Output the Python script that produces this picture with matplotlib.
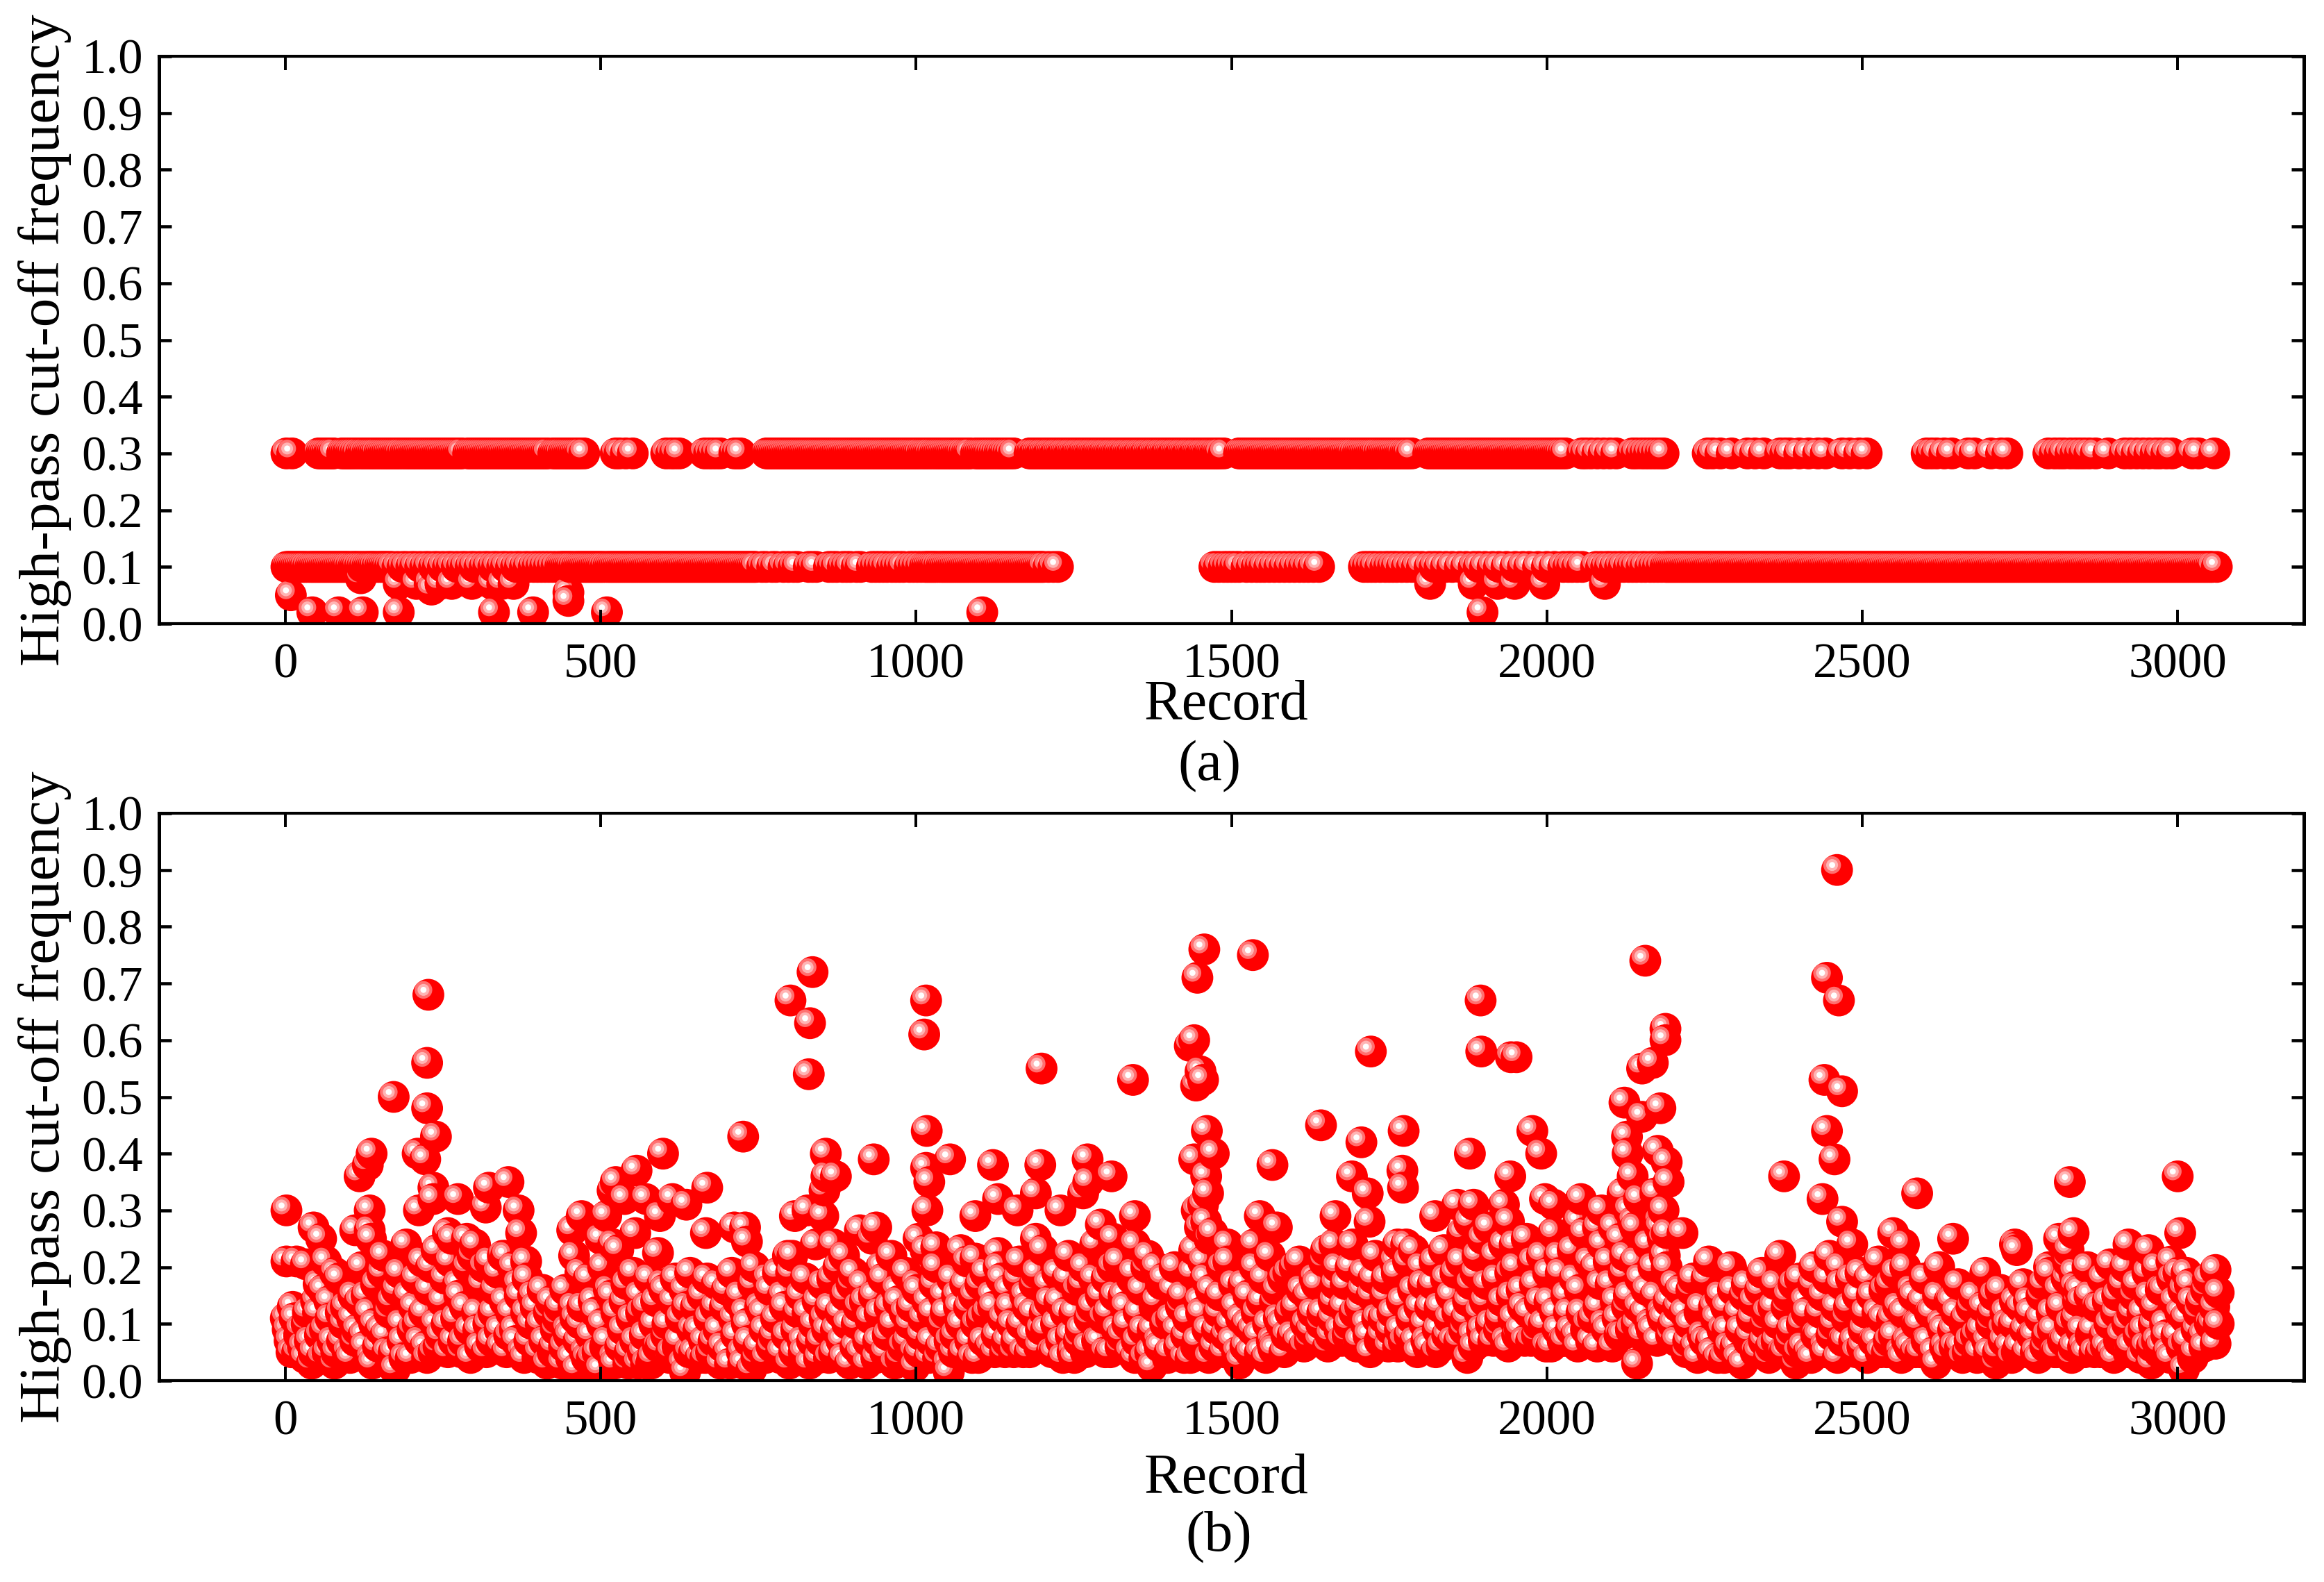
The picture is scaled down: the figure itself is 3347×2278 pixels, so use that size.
#!/usr/bin/env python3
"""
High-pass cut-off frequency per record, two panels of shaded ball markers.
"""

import numpy as np
import matplotlib
matplotlib.use("Agg")
import matplotlib.pyplot as plt
from matplotlib.colors import to_rgba_array
from matplotlib.path import Path

# panel (a): record numbers per level
a_high_x = [
    2, 11,
    53, 60, 66, 71, 77, 90, 96, 101, 107, 115, 120, 126, 133, 139, 145, 152, 158, 164, 170, 176, 182, 190, 196, 202,
    208, 214, 220, 226, 232, 238, 244, 250, 256, 262, 268, 274, 280, 290, 296, 302, 308, 314, 320, 326, 332, 338, 344,
    350, 356, 362, 368, 374, 380, 386, 392, 398, 404, 410, 416, 425, 431, 437, 444, 450, 456, 462, 468, 474,
    524, 530, 540, 551, 604, 612, 618, 625, 665, 672, 678, 684, 690, 712, 717, 722,
    763, 769, 775, 781, 787, 793, 799, 805, 811, 817, 823, 829, 835, 841, 847, 853, 859, 865, 871, 877, 883, 889, 895,
    901, 907, 913, 919, 925, 931, 937, 943, 949, 955, 961, 967, 973, 979, 985, 991, 997, 1003, 1010, 1016, 1022, 1030,
    1036, 1042, 1048, 1054, 1060, 1066, 1072, 1080, 1086, 1095, 1101, 1107, 1113, 1120, 1128, 1135, 1142, 1150, 1155,
    1180, 1185, 1190, 1196, 1201, 1207, 1212, 1218, 1223, 1229, 1234, 1240, 1245, 1251, 1256, 1262, 1267, 1273, 1278,
    1284, 1289, 1295, 1300, 1306, 1311, 1317, 1322, 1328, 1333, 1339, 1344, 1350, 1355, 1361, 1366, 1372, 1377, 1383,
    1388, 1394, 1399, 1405, 1410, 1416, 1421, 1427, 1432, 1438, 1443, 1449, 1454, 1460, 1465, 1471, 1476, 1482, 1488,
    1512, 1518, 1524, 1530, 1536, 1542, 1548, 1554, 1560, 1566, 1572, 1578, 1584, 1590, 1596, 1602, 1608, 1614, 1620,
    1626, 1632, 1638, 1644, 1650, 1656, 1662, 1668, 1674, 1680, 1686, 1692, 1700, 1706, 1712, 1718, 1724, 1730, 1738,
    1744, 1750, 1756, 1762, 1768, 1775, 1781, 1786,
    1812, 1818, 1824, 1830, 1836, 1842, 1848, 1854, 1860, 1866, 1872, 1878, 1884, 1890, 1896, 1902, 1908, 1914, 1920,
    1926, 1932, 1938, 1944, 1950, 1956, 1962, 1968, 1974, 1980, 1986, 1992, 1998, 2004, 2010, 2016, 2022, 2030,
    2056, 2062, 2070, 2080, 2090, 2100, 2110,
    2136, 2142, 2150, 2156, 2162, 2168, 2174, 2180, 2185,
    2255, 2263, 2275, 2293, 2318, 2330, 2344, 2370, 2378, 2385, 2400, 2415, 2430, 2442, 2468, 2480, 2495, 2507,
    2602, 2610, 2618, 2630, 2642, 2668, 2678, 2704, 2720, 2730,
    2795, 2805, 2813, 2820, 2830, 2838, 2845, 2852, 2860, 2870, 2890, 2916, 2925, 2935, 2945, 2955, 2965, 2972, 2982,
    2991, 3023, 3033, 3058,
]
a_high_fill_x = [
    57, 63, 69, 74, 93, 99, 104, 111, 123, 130, 136, 142, 149, 155, 161, 167, 173, 179, 186, 193, 199, 205, 211, 217,
    223, 229, 235, 241, 247, 253, 259, 265, 271, 277, 293, 299, 305, 311, 317, 323, 329, 335, 341, 347, 353, 359, 365,
    371, 377, 383, 389, 395, 401, 407, 413, 428, 434, 441, 447, 453, 459, 465,
    766, 772, 778, 784, 790, 796, 802, 808, 814, 820, 826, 832, 838, 844, 850, 856, 862, 868, 874, 880, 886, 892, 898,
    904, 910, 916, 922, 928, 934, 940, 946, 952, 958, 964, 970, 976, 982, 988, 994, 1000, 1006, 1013, 1019, 1026,
    1033, 1039, 1045, 1051, 1057, 1063, 1069, 1076, 1083, 1098, 1104, 1110, 1116, 1124, 1132, 1139, 1146,
    1183, 1188, 1193, 1199, 1204, 1210, 1215, 1221, 1226, 1232, 1237, 1243, 1248, 1254, 1259, 1265, 1270, 1276, 1281,
    1287, 1292, 1298, 1303, 1309, 1314, 1320, 1325, 1331, 1336, 1342, 1347, 1353, 1358, 1364, 1369, 1375, 1380, 1386,
    1391, 1397, 1402, 1408, 1413, 1419, 1424, 1430, 1435, 1441, 1446, 1452, 1457, 1463, 1468, 1474, 1479,
    1515, 1521, 1527, 1533, 1539, 1545, 1551, 1557, 1563, 1569, 1575, 1581, 1587, 1593, 1599, 1605, 1611, 1617, 1623,
    1629, 1635, 1641, 1647, 1653, 1659, 1665, 1671, 1677, 1683, 1689, 1696, 1703, 1709, 1715, 1721, 1727, 1734, 1741,
    1747, 1753, 1759, 1765, 1771, 1778,
    1815, 1821, 1827, 1833, 1839, 1845, 1851, 1857, 1863, 1869, 1875, 1881, 1887, 1893, 1899, 1905, 1911, 1917, 1923,
    1929, 1935, 1941, 1947, 1953, 1959, 1965, 1971, 1977, 1983, 1989, 1995, 2001, 2007, 2013, 2019, 2026,
]
a_mid_x = [
    2, 8, 14, 20, 26, 32, 40, 46, 52, 58, 64, 70, 76, 82, 88, 94, 100, 108, 114, 122, 130, 136, 142, 150, 156, 162,
    170, 178, 186, 192, 200, 206, 214, 222, 228, 236, 242, 250, 258, 264, 272, 280, 286, 294, 300, 308, 316, 322, 330,
    336, 344, 350, 358, 366, 372, 380, 386, 394, 400, 406, 412, 418, 424, 430, 436, 442, 448, 454, 462, 468, 474, 480,
    486, 492, 498, 504, 512, 518, 524, 530, 536, 542, 548, 554, 560, 566, 572, 578, 584, 590, 596, 602, 608, 614, 620,
    626, 632, 638, 644, 650, 656, 662, 668, 674, 680, 686, 692, 698, 704, 710, 716, 722, 728, 734, 740, 746, 756, 762,
    772, 778, 790, 798, 806, 812, 830, 836, 842, 862, 868, 874, 884, 890, 896, 906, 912, 930, 936, 942, 948, 954, 962,
    968, 974, 980, 990, 996, 1002, 1008, 1014, 1020, 1026, 1032, 1040, 1046, 1052, 1058, 1064, 1070, 1076, 1082, 1088,
    1094, 1100, 1106, 1112, 1118, 1124, 1130, 1136, 1142, 1148, 1154, 1160, 1166, 1172, 1178, 1184, 1190, 1196, 1202,
    1210, 1218, 1225,
    1473, 1480, 1488, 1494, 1500, 1506, 1512, 1524, 1532, 1540, 1546, 1552, 1560, 1568, 1576, 1584, 1592, 1600, 1608,
    1615, 1622, 1630, 1639,
    1710, 1716, 1722, 1728, 1736, 1744, 1750, 1756, 1762, 1770, 1778, 1786, 1794, 1802, 1814, 1822, 1830, 1840, 1850,
    1862, 1872, 1884, 1892, 1902, 1914, 1924, 1936, 1950, 1962, 1972, 1986, 2000, 2012, 2026, 2034, 2040, 2048, 2056,
    2078, 2086, 2094, 2100, 2108, 2116, 2122, 2130, 2136, 2142, 2150, 2156, 2164, 2170, 2176, 2182, 2188, 2194, 2200,
    2206, 2212, 2218, 2224, 2230, 2236, 2242, 2248, 2254, 2260, 2266, 2272, 2278, 2284, 2290, 2296, 2302, 2308, 2314,
    2320, 2326, 2332, 2338, 2344, 2350, 2356, 2362, 2368, 2374, 2380, 2386, 2392, 2398, 2404, 2410, 2416, 2422, 2428,
    2434, 2440, 2446, 2452, 2458, 2464, 2470, 2476, 2482, 2488, 2494, 2500, 2506, 2512, 2518, 2524, 2530, 2536, 2542,
    2548, 2554, 2560, 2566, 2572, 2578, 2584, 2590, 2596, 2602, 2608, 2614, 2620, 2626, 2632, 2638, 2644, 2650, 2656,
    2662, 2668, 2674, 2680, 2686, 2692, 2698, 2704, 2710, 2716, 2722, 2728, 2734, 2740, 2746, 2752, 2758, 2764, 2770,
    2776, 2782, 2788, 2794, 2800, 2806, 2812, 2818, 2824, 2830, 2836, 2842, 2848, 2854, 2860, 2866, 2872, 2878, 2884,
    2890, 2896, 2902, 2908, 2914, 2920, 2926, 2932, 2938, 2944, 2950, 2956, 2962, 2968, 2974, 2980, 2986, 2992, 2998,
    3004, 3010, 3016, 3022, 3028, 3034, 3040, 3046, 3052, 3062,
]
a_mid_fill_x = [
    5, 11, 17, 23, 29, 36, 43, 49, 55, 61, 67, 73, 79, 85, 91, 97, 104, 111, 118, 126, 133, 139, 146, 153, 159, 166,
    439, 445, 451, 458, 465, 471, 477, 483, 489, 495, 501, 508, 515, 521, 527, 533, 539, 545, 551, 557, 563, 569, 575,
    581, 587, 593, 599, 605, 611, 617, 623, 629, 635, 641, 647, 653, 659, 665, 671, 677, 683, 689, 695, 701, 707, 713,
    719, 725, 731, 737, 743, 1017, 1023, 1029, 1036, 1043, 1049, 1055, 1061, 1067, 1073, 1079, 1085, 1091, 1097, 1103,
    1109, 1115, 1121, 1127, 1133, 1139, 1145, 1151, 1157, 1163, 1169, 1175, 1181, 1187, 1193, 1199,
    2191, 2197, 2203, 2209, 2215, 2221, 2227, 2233, 2239, 2245, 2251, 2257, 2263, 2269, 2275, 2281, 2287, 2293, 2299,
    2305, 2311, 2317, 2323, 2329, 2335, 2341, 2347, 2353, 2359, 2365, 2371, 2377, 2383, 2389, 2395, 2401, 2407, 2413,
    2419, 2425, 2431, 2437, 2443, 2449, 2455, 2461, 2467, 2473, 2479, 2485, 2491, 2497, 2503, 2509, 2515, 2521, 2527,
    2533, 2539, 2545, 2551, 2557, 2563, 2569, 2575, 2581, 2587, 2593, 2599, 2605, 2611, 2617, 2623, 2629, 2635, 2641,
    2647, 2653, 2659, 2665, 2671, 2677, 2683, 2689, 2695, 2701, 2707, 2713, 2719, 2725, 2731, 2737, 2743, 2749, 2755,
    2761, 2767, 2773, 2779, 2785, 2791, 2797, 2803, 2809, 2815, 2821, 2827, 2833, 2839, 2845, 2851, 2857, 2863, 2869,
    2875, 2881, 2887, 2893, 2899, 2905, 2911, 2917, 2923, 2929, 2935, 2941, 2947, 2953, 2959, 2965, 2971, 2977, 2983,
    2989, 2995, 3001, 3007, 3013, 3019, 3025, 3031, 3037, 3043, 3049, 3055,
]
a_low_x = [9, 43, 85, 123, 120, 180, 208, 229, 232, 246, 264, 296, 328, 344, 362, 180, 331, 393, 449, 449, 510, 1105,
           1815, 1884, 1898, 1922, 1949, 1996, 2092]
a_low_y = [0.05, 0.02, 0.02, 0.02, 0.08, 0.07, 0.07, 0.07, 0.06, 0.07, 0.07, 0.07, 0.07, 0.07, 0.07, 0.02, 0.02, 0.02,
           0.055, 0.04, 0.02, 0.02, 0.07, 0.07, 0.02, 0.07, 0.07, 0.07, 0.07]

# panel (b): isolated points read one by one
b_peak_x = [2, 2, 18, 33, 45, 57, 65, 79, 53, 118, 131, 137, 111, 134, 134, 136, 172, 225, 227, 225, 239, 210, 222, 235,
            235, 212, 274, 318, 323, 354, 370, 374, 382, 350, 258, 288, 470, 455, 458, 468, 519, 524, 538, 509, 500, 520,
            836, 801, 832, 830, 1016, 1013, 1199, 1344, 726, 1017, 599, 857, 933, 557, 1054, 1122, 1197, 1272, 873, 858,
            1310, 1273, 1021, 1016, 855, 669, 614, 636, 572, 1018, 808, 828, 853, 1094, 1130, 1161, 1190, 1229, 1265,
            1347, 594, 667, 729, 712, 732, 555, 591, 797, 869, 886, 911, 937, 1004, 1032, 1071, 1094, 1130, 1190, 1293,
            1313, 1347, 1380, 572, 634, 998, 1251, 1052, 1374,
            1457, 1446, 1534, 2156, 1895, 1441, 1434, 2188, 2188, 2168, 2151, 1721, 1896, 1943, 1952, 1451, 1455, 1444,
            2180, 2123, 2151, 2127, 1642, 1773, 1706, 1461, 1977, 1991, 1878, 1472, 1441, 1771, 1772, 1942, 1565, 1460,
            1691, 2128, 2176, 2190, 2193, 1463, 1716, 1545, 1572, 1665, 1719, 1858, 1884, 1932, 1997, 2011, 2054, 2087,
            1823, 1940, 2050, 1877, 2011, 2081, 2184, 2116, 1764, 1789, 1898, 1949, 1663, 1494, 1536, 1514, 1874, 2143,
            1567,
            2460, 2444, 2463, 2440, 2468, 2444, 2456, 2437, 2376, 2587, 2829, 3000, 3004, 2835, 2812, 2827, 2922, 2954,
            2745, 2745, 2644, 2549, 2566, 2742, 2468, 3060, 3065, 3065, 3060, 2967, 2990, 3014, 2893, 2796, 2836, 2837,
            2847, 3010, 2958, 2973,
            1445, 1450, 1455, 1460, 1465, 2120, 2130, 2136, 2140, 2146, 2172, 2178, 2185, 2190]
b_peak_y = [0.30, 0.21, 0.21, 0.205, 0.27, 0.25, 0.21, 0.19, 0.17, 0.36, 0.38, 0.40, 0.265, 0.30, 0.265, 0.25, 0.50,
            0.48, 0.68, 0.56, 0.43, 0.40, 0.39, 0.34, 0.32, 0.30, 0.32, 0.305, 0.34, 0.35, 0.30, 0.26, 0.21, 0.22, 0.26,
            0.25, 0.29, 0.265, 0.22, 0.19, 0.335, 0.35, 0.32, 0.29, 0.25, 0.24,
            0.72, 0.67, 0.63, 0.54, 0.67, 0.61, 0.55, 0.53, 0.43, 0.44, 0.40, 0.40, 0.39, 0.37, 0.39, 0.38, 0.38, 0.39,
            0.36, 0.36, 0.36, 0.35, 0.35, 0.375, 0.335, 0.34, 0.32, 0.31, 0.32, 0.30, 0.29, 0.30, 0.29, 0.29, 0.32, 0.30,
            0.33, 0.30, 0.33, 0.29, 0.29, 0.26, 0.27, 0.27, 0.245, 0.26, 0.225, 0.22, 0.24, 0.22, 0.265, 0.27, 0.25,
            0.235, 0.23, 0.215, 0.225, 0.25, 0.275, 0.25, 0.24, 0.20, 0.03, 0.015, 0.025, 0.04, 0.015, 0.025,
            0.76, 0.71, 0.75, 0.74, 0.67, 0.60, 0.59, 0.62, 0.60, 0.56, 0.55, 0.58, 0.58, 0.57, 0.57, 0.545, 0.53, 0.52,
            0.48, 0.49, 0.465, 0.43, 0.45, 0.44, 0.42, 0.44, 0.44, 0.40, 0.40, 0.40, 0.39, 0.37, 0.34, 0.36, 0.38, 0.36,
            0.36, 0.40, 0.405, 0.385, 0.35, 0.33, 0.33, 0.29, 0.27, 0.29, 0.28, 0.31, 0.31, 0.31, 0.32, 0.31, 0.32, 0.30,
            0.29, 0.28, 0.28, 0.28, 0.26, 0.27, 0.25, 0.25, 0.24, 0.23, 0.25, 0.24, 0.24, 0.24, 0.24, 0.035, 0.04, 0.03,
            0.055,
            0.90, 0.71, 0.67, 0.53, 0.51, 0.44, 0.39, 0.32, 0.36, 0.33, 0.35, 0.36, 0.26, 0.26, 0.25, 0.23, 0.24, 0.23,
            0.235, 0.23, 0.25, 0.26, 0.24, 0.24, 0.28, 0.195, 0.155, 0.10, 0.065, 0.20, 0.21, 0.19, 0.205, 0.20, 0.19,
            0.165, 0.14, 0.02, 0.03, 0.06,
            0.30, 0.27, 0.31, 0.28, 0.25, 0.33, 0.30, 0.36, 0.27, 0.32, 0.33, 0.28, 0.30, 0.26]

# panel (b): the dense mass below the isolated points
b_bulk_x = [
    1, 7, 12, 19, 24, 31, 36, 42, 49, 55, 60, 67, 72, 78, 85, 90, 96, 103, 108, 114,
    121, 126, 133, 138, 144, 151, 156, 162, 169, 174, 181, 186, 192, 199, 204, 210, 217, 222, 228, 235,
    240, 246, 253, 258, 264, 271, 276, 282, 289, 294, 301, 306, 312, 319, 324, 330, 337, 342, 348, 355,
    361, 366, 372, 379, 384, 390, 397, 402, 408, 415, 421, 426, 432, 439, 444, 450, 457, 462, 468, 475,
    481, 486, 492, 499, 504, 510, 517, 522, 528, 535, 541, 546, 552, 559, 564, 570, 577, 582, 588, 595,
    601, 606, 612, 619, 624, 630, 637, 642, 648, 655, 661, 666, 672, 679, 684, 690, 697, 702, 708, 715,
    721, 726, 732, 739, 744, 750, 757, 762, 768, 775, 781, 786, 792, 799, 804, 810, 817, 822, 828, 835,
    841, 846, 852, 859, 864, 870, 877, 882, 888, 895, 901, 906, 912, 919, 924, 930, 937, 942, 948, 955,
    961, 966, 972, 979, 984, 990, 997, 1002, 1008, 1015, 1021, 1026, 1032, 1039, 1044, 1050, 1057, 1062, 1068, 1075,
    1081, 1086, 1092, 1099, 1104, 1110, 1117, 1122, 1128, 1135, 1141, 1146, 1152, 1159, 1164, 1170, 1177, 1182, 1188, 1195,
    1201, 1206, 1212, 1219, 1224, 1230, 1237, 1242, 1248, 1255, 1261, 1266, 1272, 1279, 1284, 1290, 1297, 1302, 1308, 1315,
    1321, 1326, 1332, 1339, 1344, 1350, 1357, 1362, 1368, 1375, 1381, 1386, 1392, 1399, 1404, 1410, 1417, 1422, 1428, 1435,
    1441, 1446, 1452, 1459, 1464, 1470, 1477, 1482, 1488, 1495, 1501, 1506, 1512, 1519, 1524, 1530, 1537, 1542, 1548, 1555,
    1561, 1566, 1572, 1579, 1584, 1590, 1597, 1602, 1608, 1615, 1621, 1626, 1632, 1639, 1644, 1650, 1657, 1662, 1668, 1675,
    1681, 1686, 1692, 1699, 1704, 1710, 1717, 1722, 1728, 1735, 1741, 1746, 1752, 1759, 1764, 1770, 1777, 1782, 1788, 1795,
    1801, 1806, 1812, 1819, 1824, 1830, 1837, 1842, 1848, 1855, 1861, 1866, 1872, 1879, 1884, 1890, 1897, 1902, 1908, 1915,
    1921, 1926, 1932, 1939, 1944, 1950, 1957, 1962, 1968, 1975, 1981, 1986, 1992, 1999, 2004, 2010, 2017, 2022, 2028, 2035,
    2041, 2046, 2052, 2059, 2064, 2070, 2077, 2082, 2088, 2095, 2101, 2106, 2112, 2119, 2124, 2130, 2137, 2142, 2148, 2155,
    2161, 2166, 2172, 2179, 2184, 2190, 2197, 2202, 2208, 2215, 2221, 2226, 2232, 2239, 2244, 2250, 2257, 2262, 2268, 2275,
    2281, 2286, 2292, 2299, 2304, 2310, 2317, 2322, 2328, 2335, 2341, 2346, 2352, 2359, 2364, 2370, 2377, 2382, 2388, 2395,
    2401, 2406, 2412, 2419, 2424, 2430, 2437, 2442, 2448, 2455, 2461, 2466, 2472, 2479, 2484, 2490, 2497, 2502, 2508, 2515,
    2521, 2526, 2532, 2539, 2544, 2550, 2557, 2562, 2568, 2575, 2581, 2586, 2592, 2599, 2604, 2610, 2617, 2622, 2628, 2635,
    2641, 2646, 2652, 2659, 2664, 2670, 2677, 2682, 2688, 2695, 2701, 2706, 2712, 2719, 2724, 2730, 2737, 2742, 2748, 2755,
    2761, 2766, 2772, 2779, 2784, 2790, 2797, 2802, 2808, 2815, 2821, 2826, 2832, 2839, 2844, 2850, 2857, 2862, 2868, 2875,
    2881, 2886, 2892, 2899, 2904, 2910, 2917, 2922, 2928, 2935, 2941, 2946, 2952, 2959, 2964, 2970, 2977, 2982, 2988, 2995,
    3001, 3006, 3012, 3019, 3024, 3030, 3037, 3042, 3048, 3055,
]
b_bulk_y = [
    0.11, 0.07, 0.13, 0.05, 0.09, 0.04, 0.12, 0.03, 0.14, 0.08, 0.16, 0.05, 0.11, 0.03, 0.18, 0.07, 0.13, 0.04, 0.15, 0.09,
    0.20, 0.06, 0.12, 0.03, 0.17, 0.09, 0.22, 0.05, 0.14, 0.02, 0.19, 0.07, 0.24, 0.04, 0.13, 0.10, 0.21, 0.06, 0.16, 0.05,
    0.23, 0.08, 0.18, 0.05, 0.25, 0.11, 0.15, 0.07, 0.20, 0.04, 0.24, 0.09, 0.17, 0.05, 0.21, 0.12, 0.19, 0.06, 0.14, 0.08,
    0.20, 0.07, 0.15, 0.04, 0.18, 0.10, 0.13, 0.05, 0.16, 0.03, 0.14, 0.06, 0.11, 0.03, 0.16, 0.08, 0.13, 0.02, 0.10, 0.05,
    0.18, 0.04, 0.12, 0.02, 0.20, 0.07, 0.15, 0.03, 0.23, 0.09, 0.17, 0.05, 0.19, 0.03, 0.12, 0.08, 0.18, 0.04, 0.14, 0.06,
    0.16, 0.10, 0.05, 0.18, 0.07, 0.03, 0.13, 0.19, 0.05, 0.09, 0.15, 0.04, 0.11, 0.07, 0.17, 0.03, 0.13, 0.05, 0.19, 0.08,
    0.15, 0.03, 0.10, 0.02, 0.20, 0.06, 0.12, 0.04, 0.16, 0.08, 0.19, 0.05, 0.13, 0.03, 0.22, 0.09, 0.15, 0.05, 0.12, 0.07,
    0.24, 0.04, 0.17, 0.09, 0.13, 0.05, 0.20, 0.07, 0.15, 0.03, 0.19, 0.10, 0.05, 0.14, 0.07, 0.25, 0.04, 0.12, 0.18, 0.08,
    0.22, 0.03, 0.14, 0.06, 0.19, 0.10, 0.05, 0.16, 0.08, 0.23, 0.04, 0.12, 0.20, 0.06, 0.15, 0.03, 0.18, 0.08, 0.13, 0.05,
    0.21, 0.07, 0.15, 0.04, 0.11, 0.19, 0.06, 0.13, 0.08, 0.18, 0.05, 0.16, 0.10, 0.07, 0.21, 0.05, 0.13, 0.08, 0.17, 0.06,
    0.23, 0.09, 0.14, 0.05, 0.19, 0.07, 0.12, 0.22, 0.05, 0.16, 0.09, 0.20, 0.06, 0.13, 0.24, 0.07, 0.11, 0.18, 0.05, 0.15,
    0.21, 0.08, 0.13, 0.05, 0.19, 0.07, 0.16, 0.04, 0.22, 0.09, 0.14, 0.06, 0.18, 0.04, 0.11, 0.20, 0.06, 0.15, 0.08, 0.04,
    0.23, 0.07, 0.12, 0.18, 0.04, 0.26, 0.09, 0.15, 0.05, 0.21, 0.07, 0.13, 0.03, 0.17, 0.10, 0.05, 0.20, 0.08, 0.14, 0.04,
    0.22, 0.06, 0.16, 0.10, 0.05, 0.19, 0.08, 0.13, 0.21, 0.06, 0.15, 0.09, 0.18, 0.07, 0.12, 0.23, 0.08, 0.14, 0.20, 0.07,
    0.17, 0.10, 0.24, 0.06, 0.13, 0.19, 0.08, 0.15, 0.22, 0.07, 0.11, 0.18, 0.09, 0.21, 0.06, 0.14, 0.24, 0.08, 0.16, 0.05,
    0.20, 0.10, 0.06, 0.17, 0.05, 0.13, 0.23, 0.08, 0.15, 0.19, 0.07, 0.26, 0.11, 0.17, 0.06, 0.22, 0.09, 0.14, 0.27, 0.07,
    0.18, 0.11, 0.24, 0.06, 0.15, 0.20, 0.09, 0.13, 0.25, 0.07, 0.17, 0.10, 0.22, 0.06, 0.14, 0.26, 0.09, 0.19, 0.07, 0.12,
    0.23, 0.08, 0.16, 0.26, 0.10, 0.07, 0.20, 0.13, 0.24, 0.09, 0.17, 0.27, 0.11, 0.08, 0.22, 0.15, 0.28, 0.10, 0.18, 0.12,
    0.24, 0.09, 0.15, 0.27, 0.11, 0.20, 0.08, 0.17, 0.13, 0.26, 0.05, 0.10, 0.18, 0.04, 0.13, 0.07, 0.21, 0.05, 0.11, 0.15,
    0.04, 0.09, 0.20, 0.06, 0.12, 0.03, 0.17, 0.08, 0.14, 0.05, 0.19, 0.10, 0.04, 0.13, 0.07, 0.22, 0.05, 0.15, 0.09, 0.03,
    0.18, 0.06, 0.12, 0.04, 0.20, 0.08, 0.15, 0.05, 0.22, 0.10, 0.04, 0.17, 0.07, 0.13, 0.24, 0.05, 0.19, 0.09, 0.04, 0.15,
    0.07, 0.21, 0.11, 0.05, 0.17, 0.08, 0.13, 0.04, 0.20, 0.06, 0.15, 0.10, 0.05, 0.18, 0.07, 0.12, 0.03, 0.20, 0.09, 0.05,
    0.14, 0.06, 0.17, 0.04, 0.11, 0.07, 0.15, 0.04, 0.09, 0.19, 0.05, 0.12, 0.03, 0.16, 0.07, 0.10, 0.04, 0.14, 0.06, 0.17,
    0.05, 0.12, 0.08, 0.04, 0.15, 0.06, 0.19, 0.09, 0.05, 0.13, 0.07, 0.21, 0.04, 0.11, 0.16, 0.06, 0.20, 0.08, 0.05, 0.13,
    0.18, 0.06, 0.10, 0.04, 0.15, 0.08, 0.20, 0.05, 0.12, 0.17, 0.04, 0.09, 0.19, 0.06, 0.13, 0.05, 0.16, 0.08, 0.04, 0.14,
    0.19, 0.06, 0.11, 0.17, 0.04, 0.09, 0.14, 0.06, 0.18, 0.10,
]
b_fill_x = [
    4, 10, 15, 22, 28, 34, 39, 45, 52, 58, 63, 70, 75, 81, 88, 93, 99, 106, 111, 118,
    124, 129, 136, 141, 147, 154, 159, 165, 172, 177, 184, 189, 195, 202, 207, 213, 220, 225, 231, 238,
    243, 249, 256, 261, 267, 274, 279, 285, 292, 297, 304, 309, 315, 322, 327, 333, 340, 345, 351, 358,
    364, 369, 375, 382, 387, 393, 400, 405, 411, 418, 424, 429, 435, 442, 447, 453, 460, 465, 471, 478,
    484, 489, 495, 502, 507, 513, 520, 525, 531, 538, 544, 549, 555, 562, 567, 573, 580, 585, 591, 598,
    604, 609, 615, 622, 627, 633, 640, 645, 651, 658, 664, 669, 675, 682, 687, 693, 700, 705, 711, 718,
    724, 729, 735, 742, 747, 753, 760, 765, 771, 778, 784, 789, 795, 802, 807, 813, 820, 825, 831, 838,
    844, 849, 855, 862, 867, 873, 880, 885, 891, 898, 904, 909, 915, 922, 927, 933, 940, 945, 951, 958,
    964, 969, 975, 982, 987, 993, 1000, 1005, 1011, 1018, 1024, 1029, 1035, 1042, 1047, 1053, 1060, 1065, 1071, 1078,
    1084, 1089, 1095, 1102, 1107, 1113, 1120, 1125, 1131, 1138, 1144, 1149, 1155, 1162, 1167, 1173, 1180, 1185, 1191, 1198,
    1204, 1209, 1215, 1222, 1227, 1233, 1240, 1245, 1251, 1258, 1264, 1269, 1275, 1282, 1287, 1293, 1300, 1305, 1311, 1318,
    1324, 1329, 1335, 1342, 1347, 1353, 1360, 1365, 1371, 1378, 1384, 1389, 1395, 1402, 1407, 1413, 1420, 1425, 1431, 1438,
    1444, 1449, 1455, 1462, 1467, 1473, 1480, 1485, 1491, 1498, 1504, 1509, 1515, 1522, 1527, 1533, 1540, 1545, 1551, 1558,
    1564, 1569, 1575, 1582, 1587, 1593, 1600, 1605, 1611, 1618, 1624, 1629, 1635, 1642, 1647, 1653, 1660, 1665, 1671, 1678,
    1684, 1689, 1695, 1702, 1707, 1713, 1720, 1725, 1731, 1738, 1744, 1749, 1755, 1762, 1767, 1773, 1780, 1785, 1791, 1798,
    1804, 1809, 1815, 1822, 1827, 1833, 1840, 1845, 1851, 1858, 1864, 1869, 1875, 1882, 1887, 1893, 1900, 1905, 1911, 1918,
    1924, 1929, 1935, 1942, 1947, 1953, 1960, 1965, 1971, 1978, 1984, 1989, 1995, 2002, 2007, 2013, 2020, 2025, 2031, 2038,
    2044, 2049, 2055, 2062, 2067, 2073, 2080, 2085, 2091, 2098, 2104, 2109, 2115, 2122, 2127, 2133, 2140, 2145, 2151, 2158,
    2164, 2169, 2175, 2182, 2187, 2193, 2200, 2205, 2211, 2218, 2224, 2229, 2235, 2242, 2247, 2253, 2260, 2265, 2271, 2278,
    2284, 2289, 2295, 2302, 2307, 2313, 2320, 2325, 2331, 2338, 2344, 2349, 2355, 2362, 2367, 2373, 2380, 2385, 2391, 2398,
    2404, 2409, 2415, 2422, 2427, 2433, 2440, 2445, 2451, 2458, 2464, 2469, 2475, 2482, 2487, 2493, 2500, 2505, 2511, 2518,
    2524, 2529, 2535, 2542, 2547, 2553, 2560, 2565, 2571, 2578, 2584, 2589, 2595, 2602, 2607, 2613, 2620, 2625, 2631, 2638,
    2644, 2649, 2655, 2662, 2667, 2673, 2680, 2685, 2691, 2698, 2704, 2709, 2715, 2722, 2727, 2733, 2740, 2745, 2751, 2758,
    2764, 2769, 2775, 2782, 2787, 2793, 2800, 2805, 2811, 2818, 2824, 2829, 2835, 2842, 2847, 2853, 2860, 2865, 2871, 2878,
    2884, 2889, 2895, 2902, 2907, 2913, 2920, 2925, 2931, 2938, 2944, 2949, 2955, 2962, 2967, 2973, 2980, 2985, 2991, 2998,
    3004, 3009, 3015, 3022, 3027, 3033, 3040, 3045, 3051, 3058,
]
b_fill_y = [
    0.09, 0.05, 0.11, 0.08, 0.06, 0.10, 0.07, 0.05, 0.12, 0.04, 0.09, 0.14, 0.07, 0.05, 0.12, 0.10, 0.05, 0.11, 0.07, 0.14,
    0.08, 0.15, 0.04, 0.10, 0.06, 0.19, 0.08, 0.12, 0.05, 0.16, 0.10, 0.04, 0.15, 0.09, 0.18, 0.07, 0.12, 0.04, 0.20, 0.10,
    0.06, 0.14, 0.10, 0.21, 0.07, 0.17, 0.05, 0.13, 0.09, 0.22, 0.12, 0.06, 0.20, 0.10, 0.07, 0.16, 0.09, 0.22, 0.05, 0.12,
    0.09, 0.17, 0.05, 0.12, 0.07, 0.15, 0.04, 0.10, 0.07, 0.12, 0.05, 0.09, 0.13, 0.06, 0.09, 0.04, 0.11, 0.07, 0.13, 0.04,
    0.08, 0.14, 0.05, 0.10, 0.06, 0.16, 0.04, 0.12, 0.06, 0.14, 0.03, 0.11, 0.07, 0.15, 0.05, 0.13, 0.03, 0.10, 0.06, 0.17,
    0.08, 0.04, 0.14, 0.06, 0.11, 0.16, 0.05, 0.09, 0.13, 0.04, 0.07, 0.18, 0.05, 0.13, 0.09, 0.06, 0.16, 0.03, 0.11, 0.14,
    0.05, 0.12, 0.07, 0.17, 0.04, 0.13, 0.09, 0.18, 0.06, 0.11, 0.04, 0.15, 0.08, 0.19, 0.05, 0.12, 0.07, 0.18, 0.03, 0.10,
    0.14, 0.07, 0.11, 0.04, 0.18, 0.09, 0.12, 0.04, 0.10, 0.17, 0.06, 0.13, 0.17, 0.03, 0.11, 0.15, 0.07, 0.20, 0.05, 0.13,
    0.10, 0.16, 0.04, 0.12, 0.07, 0.13, 0.17, 0.05, 0.11, 0.14, 0.07, 0.17, 0.04, 0.10, 0.12, 0.07, 0.05, 0.15, 0.10, 0.17,
    0.13, 0.04, 0.10, 0.17, 0.07, 0.12, 0.15, 0.05, 0.20, 0.11, 0.07, 0.13, 0.05, 0.18, 0.10, 0.15, 0.05, 0.12, 0.19, 0.09,
    0.12, 0.17, 0.05, 0.10, 0.14, 0.04, 0.18, 0.08, 0.12, 0.07, 0.17, 0.05, 0.11, 0.18, 0.07, 0.15, 0.05, 0.12, 0.20, 0.09,
    0.06, 0.15, 0.10, 0.18, 0.04, 0.12, 0.09, 0.20, 0.05, 0.13, 0.07, 0.17, 0.10, 0.05, 0.16, 0.09, 0.13, 0.04, 0.11, 0.19,
    0.06, 0.14, 0.21, 0.09, 0.16, 0.06, 0.12, 0.20, 0.08, 0.10, 0.17, 0.05, 0.11, 0.06, 0.15, 0.09, 0.12, 0.05, 0.18, 0.10,
    0.07, 0.14, 0.11, 0.18, 0.08, 0.12, 0.20, 0.07, 0.16, 0.10, 0.07, 0.12, 0.17, 0.10, 0.21, 0.06, 0.11, 0.17, 0.09, 0.13,
    0.08, 0.20, 0.12, 0.07, 0.16, 0.10, 0.05, 0.18, 0.11, 0.08, 0.15, 0.06, 0.12, 0.19, 0.09, 0.07, 0.21, 0.11, 0.07, 0.13,
    0.17, 0.07, 0.13, 0.21, 0.09, 0.06, 0.18, 0.11, 0.07, 0.12, 0.21, 0.09, 0.14, 0.08, 0.19, 0.12, 0.07, 0.17, 0.10, 0.22,
    0.09, 0.14, 0.07, 0.19, 0.11, 0.08, 0.16, 0.07, 0.12, 0.21, 0.08, 0.14, 0.10, 0.19, 0.06, 0.12, 0.22, 0.07, 0.15, 0.09,
    0.18, 0.06, 0.12, 0.09, 0.21, 0.11, 0.06, 0.17, 0.10, 0.21, 0.06, 0.14, 0.08, 0.19, 0.13, 0.09, 0.21, 0.13, 0.08, 0.16,
    0.10, 0.20, 0.07, 0.12, 0.22, 0.14, 0.10, 0.07, 0.16, 0.12, 0.07, 0.16, 0.06, 0.12, 0.08, 0.18, 0.07, 0.13, 0.04, 0.09,
    0.13, 0.06, 0.16, 0.04, 0.09, 0.15, 0.07, 0.11, 0.05, 0.16, 0.07, 0.12, 0.06, 0.17, 0.10, 0.05, 0.13, 0.07, 0.17, 0.05,
    0.10, 0.14, 0.05, 0.17, 0.08, 0.12, 0.06, 0.18, 0.08, 0.13, 0.20, 0.07, 0.11, 0.18, 0.07, 0.15, 0.06, 0.12, 0.18, 0.07,
    0.12, 0.05, 0.16, 0.07, 0.11, 0.19, 0.05, 0.12, 0.07, 0.16, 0.05, 0.10, 0.14, 0.07, 0.12, 0.05, 0.15, 0.10, 0.06, 0.14,
    0.09, 0.12, 0.06, 0.10, 0.05, 0.13, 0.08, 0.05, 0.13, 0.07, 0.10, 0.15, 0.05, 0.09, 0.12, 0.06, 0.10, 0.05, 0.13, 0.09,
    0.14, 0.08, 0.05, 0.11, 0.17, 0.08, 0.12, 0.05, 0.16, 0.07, 0.18, 0.10, 0.06, 0.14, 0.09, 0.05, 0.15, 0.09, 0.13, 0.05,
    0.08, 0.14, 0.05, 0.12, 0.07, 0.17, 0.10, 0.06, 0.15, 0.08, 0.12, 0.06, 0.15, 0.10, 0.07, 0.16, 0.10, 0.05, 0.18, 0.08,
    0.12, 0.16, 0.07, 0.14, 0.05, 0.12, 0.08, 0.16, 0.10, 0.13,
]

y_ticks = [0.0, 0.1, 0.2, 0.3, 0.4, 0.5, 0.6, 0.7, 0.8, 0.9, 1.0]
x_ticks = [0, 500, 1000, 1500, 2000, 2500, 3000]

WIDTH, HEIGHT = 3347, 2278
DPI = 300

# ball marker, sizes in points: red body, then a highlight up and to the left
BALL_PATHS = [
    Path.circle((0.0, 0.0), 5.5),
    Path.circle((-1.7, 1.7), 3.05),
    Path.circle((-1.7, 1.7), 2.05),
    Path.circle((-1.7, 1.7), 1.05),
]
BALL_COLORS = ["#ff0000", "#ff7070", "#ffb4b4", "#ffffff"]


def draw_balls(ax, x, y):
    order = np.argsort(x, kind="stable")
    x = np.asarray(x, dtype=float)[order]
    y = np.asarray(y, dtype=float)[order]
    colors = np.tile(to_rgba_array(BALL_COLORS), (x.size, 1))
    balls = ax.scatter(np.repeat(x, 4), np.repeat(y, 4), s=1.0, color=colors, linewidths=0)
    balls.set_paths(BALL_PATHS)


def style_axes(ax):
    ax.set_xlim(-200, 3200)
    ax.set_ylim(0.0, 1.0)
    ax.set_xticks(x_ticks)
    ax.set_yticks(y_ticks)
    ax.set_yticklabels([f"{t:.1f}" for t in y_ticks])
    ax.tick_params(axis="x", which="major", direction="in", top=True, length=4.8, width=0.95, pad=6.5, labelsize=17)
    ax.tick_params(axis="y", which="major", direction="in", right=True, length=4.3, width=1.1, pad=5.5, labelsize=17)
    for side in ("top", "bottom"):
        ax.spines[side].set_linewidth(1.0)
    for side in ("left", "right"):
        ax.spines[side].set_linewidth(1.2)


def panel_rect(left, top, right, bottom):
    return [left / WIDTH, 1 - bottom / HEIGHT, (right - left) / WIDTH, (bottom - top) / HEIGHT]


def fig_text(fig, px, py, label, size, **kwargs):
    fig.text(px / WIDTH, 1 - py / HEIGHT, label, fontsize=size, ha="center", va="center", **kwargs)


def main():
    plt.rcParams["font.family"] = ["Liberation Serif", "DejaVu Serif"]
    fig = plt.figure(figsize=(WIDTH / DPI, HEIGHT / DPI), dpi=DPI)

    ax_a = fig.add_axes(panel_rect(229, 81, 3318, 898))
    high_x = a_high_x + a_high_fill_x
    mid_x = a_mid_x + a_mid_fill_x
    a_x = high_x + mid_x + a_low_x
    a_y = [0.3] * len(high_x) + [0.1] * len(mid_x) + a_low_y
    draw_balls(ax_a, a_x, a_y)
    style_axes(ax_a)

    ax_b = fig.add_axes(panel_rect(229, 1171, 3318, 1988))
    draw_balls(ax_b, b_peak_x + b_bulk_x + b_fill_x, b_peak_y + b_bulk_y + b_fill_y)
    style_axes(ax_b)

    for ylab_center in (490, 1580):
        fig_text(fig, 65, ylab_center, "High-pass cut-off frequency", 20, rotation=90)
    fig_text(fig, 1766, 1016, "Record", 19.7)
    fig_text(fig, 1742, 1104, "(a)", 19.7)
    fig_text(fig, 1766, 2130, "Record", 19.7)
    fig_text(fig, 1755, 2214, "(b)", 19.7)

    fig.savefig("out.png", dpi=DPI)


if __name__ == "__main__":
    main()
